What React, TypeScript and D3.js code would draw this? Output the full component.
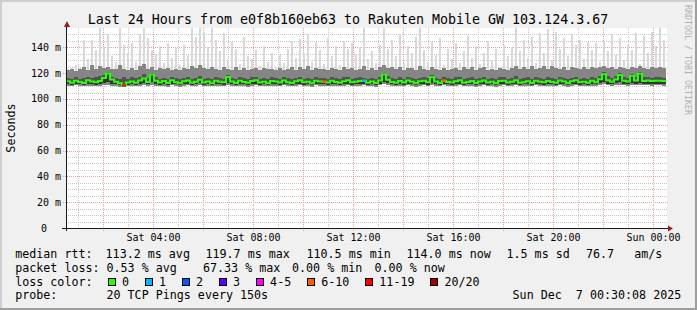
import React from "react";
import * as d3 from "d3";

// ---------- time window ----------
const START = new Date(2025, 11, 6, 0, 30, 8);
const END = new Date(2025, 11, 7, 0, 30, 8);
const Y_MAX = 155;

// ---------- data (ms), 150 consolidated slots of 9.6 min ----------
const medianMs = [
  113.8, 112.6, 114.1, 113.2, 112.4, 114.6, 113.5, 112.9, 114.0, 116.2,
  119.7, 115.1, 113.4, 112.2, 110.6, 112.8, 113.6, 112.5, 114.3, 115.8,
  113.1, 118.9, 114.2, 112.7, 113.9, 112.3, 114.5, 113.0, 112.1, 113.8,
  114.4, 112.6, 113.3, 114.9, 112.8, 113.5, 112.2, 114.1, 113.4, 112.9,
  117.0, 113.6, 112.4, 114.2, 113.1, 112.5, 113.9, 114.6, 112.7, 113.3,
  112.2, 114.0, 113.5, 112.8, 114.3, 113.0, 112.4, 113.7, 114.5, 112.9,
  113.4, 112.1, 114.2, 113.6, 113.4, 112.7, 114.1, 113.2, 112.5, 113.8,
  114.6, 112.9, 113.3, 114.0, 114.2, 112.6, 113.5, 112.3, 114.4, 119.0,
  114.8, 113.1, 112.5, 113.9, 112.8, 114.3, 113.4, 112.2, 113.7, 114.1,
  112.9, 116.8, 113.5, 112.4, 114.2, 113.1, 112.7, 113.8, 114.5, 112.6,
  113.2, 114.0, 112.3, 113.6, 114.4, 112.8, 113.3, 112.1, 113.9, 114.2,
  112.7, 113.4, 114.6, 112.5, 113.0, 113.8, 112.4, 114.1, 113.3, 112.9,
  114.0, 113.2, 112.6, 114.3, 113.5, 112.2, 113.7, 114.5, 112.9, 113.4,
  112.5, 114.1, 113.0, 115.2, 119.1, 114.6, 113.3, 115.0, 118.5, 114.2,
  113.6, 118.0, 114.3, 119.5, 114.0, 114.3, 113.9, 114.2, 114.1, 114.0,
];

const maxMs = [
  123.5, 124.2, 126.0, 123.8, 145.5, 131.0, 146.0, 138.0, 155.0, 140.0,
  150.0, 133.0, 128.5, 155.0, 142.0, 136.0, 143.5, 129.0, 150.0, 155.0,
  147.0, 138.0, 135.0, 141.0, 128.0, 143.0, 132.0, 139.5, 126.5, 142.0,
  134.0, 155.0, 148.0, 155.0, 152.0, 140.0, 155.0, 146.0, 137.0, 151.0,
  130.0, 144.0, 139.0, 127.0, 148.0, 133.0, 131.0, 138.0, 125.5, 141.0,
  129.0, 136.0, 124.5, 134.0, 127.5, 139.0, 145.0, 132.0, 146.5, 136.0,
  150.0, 129.0, 144.0, 138.0, 127.0, 147.0, 133.5, 141.0, 126.0, 145.0,
  139.0, 143.0, 135.0, 140.0, 155.0, 131.0, 137.0, 128.0, 142.0, 155.0,
  139.0, 146.0, 133.0, 150.0, 127.5, 141.0, 136.0, 148.0, 155.0, 138.0,
  129.0, 144.0, 134.0, 147.0, 126.0, 139.0, 131.0, 143.0, 128.0, 137.0,
  148.5, 132.0, 141.0, 127.0, 136.0, 145.0, 130.0, 138.5, 124.5, 142.0,
  133.0, 140.0, 155.0, 137.0, 146.0, 132.0, 148.0, 128.0, 151.0, 136.0,
  154.0, 130.0, 152.0, 139.0, 147.0, 133.0, 150.0, 142.0, 146.0, 131.0,
  144.0, 138.0, 143.0, 129.0, 145.0, 137.0, 150.0, 134.0, 147.0, 130.0,
  142.0, 138.0, 151.0, 127.0, 149.0, 136.0, 152.0, 141.0, 155.0, 146.0,
];

const p90Ms = [
  122.4, 123.1, 122.0, 123.5, 124.8, 122.6, 126.2, 123.0, 125.5, 123.8,
  124.6, 122.9, 123.4, 126.0, 123.2, 122.5, 124.1, 122.8, 125.2, 127.0,
  123.6, 124.9, 122.3, 123.7, 122.9, 124.3, 122.1, 123.5, 122.7, 124.0,
  123.2, 125.8, 123.9, 126.5, 124.2, 123.0, 125.1, 123.6, 122.4, 124.7,
  123.3, 122.8, 124.5, 122.6, 123.9, 122.2, 123.4, 124.1, 122.5, 123.8,
  122.9, 123.6, 122.1, 124.0, 122.7, 123.3, 125.0, 122.8, 124.6, 123.1,
  125.4, 122.6, 123.8, 122.9, 123.5, 122.3, 124.2, 123.0, 122.6, 124.8,
  123.4, 124.1, 122.7, 123.6, 125.3, 122.8, 123.9, 122.5, 124.4, 126.1,
  123.7, 124.6, 122.9, 125.0, 122.6, 123.8, 124.3, 122.4, 125.6, 123.5,
  122.8, 124.9, 123.2, 122.6, 123.9, 122.5, 123.6, 124.2, 122.7, 124.8,
  123.1, 124.4, 122.6, 123.7, 124.9, 122.8, 123.5, 122.3, 124.0, 123.2,
  122.7, 123.9, 125.7, 123.3, 124.5, 122.9, 125.2, 123.4, 124.1, 125.9,
  123.6, 125.4, 124.2, 123.1, 124.7, 122.8, 125.0, 124.3, 123.5, 124.6,
  123.2, 124.8, 123.7, 124.4, 125.8, 123.9, 124.6, 123.3, 125.1, 124.0,
  123.5, 124.9, 123.8, 125.3, 124.1, 123.6, 124.7, 123.9, 124.4, 123.7,
];

const p75Ms = [
  116.2, 115.4, 117.0, 115.8, 116.5, 117.3, 115.9, 116.8, 117.5, 118.2,
  121.0, 117.4, 116.1, 115.6, 116.9, 115.3, 116.7, 115.9, 117.2, 119.3,
  116.4, 120.5, 117.1, 115.7, 116.3, 115.5, 117.0, 116.2, 115.4, 116.6,
  117.3, 115.8, 116.5, 117.9, 115.6, 116.4, 115.2, 117.1, 116.0, 115.7,
  118.6, 116.3, 115.5, 117.0, 116.2, 115.4, 116.8, 117.4, 115.6, 116.1,
  115.3, 116.9, 116.4, 115.8, 117.2, 116.0, 115.5, 116.6, 117.3, 115.7,
  116.3, 115.4, 117.0, 116.5, 116.1, 115.6, 116.9, 116.2, 115.5, 116.7,
  117.4, 115.8, 116.3, 117.0, 116.6, 115.5, 116.4, 115.3, 117.2, 120.4,
  117.6, 116.1, 115.5, 116.8, 115.7, 117.1, 116.3, 115.2, 116.6, 117.0,
  115.9, 118.9, 116.4, 115.3, 117.0, 116.0, 115.6, 116.7, 117.3, 115.5,
  116.1, 117.0, 115.3, 116.5, 117.2, 115.7, 116.3, 115.1, 116.9, 117.1,
  115.6, 116.4, 117.5, 115.4, 116.0, 116.8, 115.3, 117.0, 116.2, 115.8,
  117.0, 116.3, 115.5, 117.2, 116.4, 115.2, 116.6, 117.4, 115.8, 116.3,
  115.4, 117.0, 116.0, 118.1, 120.6, 117.5, 116.3, 117.9, 120.1, 117.2,
  116.5, 119.6, 117.3, 120.8, 117.0, 116.9, 116.4, 117.1, 116.8, 116.6,
];

const p25Ms = [
  111.6, 111.1, 111.9, 111.4, 111.0, 111.8, 111.5, 111.2, 111.7, 112.3,
  113.0, 111.9, 111.3, 110.9, 110.2, 111.2, 111.6, 111.0, 111.8, 112.4,
  111.4, 112.8, 111.7, 111.1, 111.5, 110.9, 111.8, 111.3, 110.8, 111.6,
  111.9, 111.0, 111.4, 112.0, 111.2, 111.5, 110.9, 111.8, 111.4, 111.1,
  112.5, 111.5, 111.0, 111.8, 111.3, 110.9, 111.6, 111.9, 111.1, 111.4,
  110.9, 111.7, 111.5, 111.2, 111.8, 111.3, 111.0, 111.6, 111.9, 111.2,
  111.5, 110.8, 111.8, 111.6, 111.4, 111.1, 111.7, 111.4, 111.0, 111.6,
  111.9, 111.2, 111.4, 111.7, 111.8, 111.0, 111.5, 110.9, 111.8, 112.9,
  112.0, 111.4, 111.0, 111.7, 111.2, 111.8, 111.5, 110.9, 111.6, 111.8,
  111.2, 112.4, 111.5, 111.0, 111.8, 111.3, 111.1, 111.6, 111.9, 111.1,
  111.4, 111.7, 110.9, 111.5, 111.8, 111.2, 111.4, 110.8, 111.6, 111.8,
  111.1, 111.5, 111.9, 111.0, 111.3, 111.6, 111.0, 111.8, 111.4, 111.2,
  111.7, 111.4, 111.1, 111.8, 111.5, 110.9, 111.6, 111.9, 111.2, 111.4,
  111.0, 111.7, 111.3, 112.0, 113.1, 111.9, 111.4, 112.1, 112.8, 111.9,
  111.6, 112.5, 111.8, 112.7, 111.9, 111.8, 111.6, 111.9, 111.8, 111.7,
];

const minMs = [
  110.2, 109.8, 110.5, 110.0, 109.7, 110.4, 110.1, 109.9, 110.3, 110.6,
  111.2, 110.4, 110.0, 109.6, 109.5, 109.9, 110.2, 109.7, 110.4, 110.8,
  110.1, 111.0, 110.3, 109.8, 110.2, 109.6, 110.5, 110.0, 109.6, 110.3,
  110.5, 109.8, 110.1, 110.6, 109.9, 110.2, 109.7, 110.4, 110.1, 109.8,
  110.9, 110.2, 109.7, 110.4, 110.0, 109.6, 110.3, 110.5, 109.8, 110.1,
  109.7, 110.4, 110.2, 109.9, 110.5, 110.0, 109.7, 110.3, 110.6, 109.9,
  110.2, 109.6, 110.5, 110.3, 110.1, 109.8, 110.4, 110.1, 109.7, 110.3,
  110.6, 109.9, 110.1, 110.4, 110.5, 109.7, 110.2, 109.6, 110.5, 111.3,
  110.7, 110.1, 109.8, 110.4, 109.9, 110.5, 110.2, 109.6, 110.3, 110.5,
  109.9, 110.9, 110.2, 109.7, 110.5, 110.0, 109.8, 110.3, 110.6, 109.8,
  110.1, 110.4, 109.6, 110.2, 110.5, 109.9, 110.1, 109.5, 110.3, 110.5,
  109.8, 110.2, 110.6, 109.7, 110.0, 110.3, 109.7, 110.5, 110.1, 109.9,
  110.4, 110.1, 109.8, 110.5, 110.2, 109.6, 110.3, 110.6, 109.9, 110.1,
  109.7, 110.4, 110.0, 110.7, 111.4, 110.6, 110.1, 110.8, 111.2, 110.6,
  110.3, 111.0, 110.5, 111.1, 110.6, 110.5, 110.3, 110.6, 110.5, 110.4,
];

// slots with packet loss (index into the arrays above) and lost pings of 20
const lossSlots = [14, 64, 74, 94];
const lossCounts = [13, 7, 1, 8];

// ---------- labels ----------
const yTickValues = [0, 20, 40, 60, 80, 100, 120, 140];
const titleText = "Last 24 Hours from e0f8b160eb63 to Rakuten Mobile GW 103.124.3.67";
const yAxisTitle = "Seconds";
const watermark = "RRDTOOL / TOBI OETIKER";
const lossLabels = ["0", "1", "2", "3", "4-5", "6-10", "11-19", "20/20"];
const lossColors = ["#26ff00", "#00b8ff", "#0059ff", "#5e00ff", "#ff00ff", "#ff5e00", "#ff0000", "#a10000"];
const rttRow = ["median rtt:", "113.2 ms avg", "119.7 ms max", "110.5 ms min", "114.0 ms now", "1.5 ms sd", "76.7", "am/s"];
const lossRow = ["packet loss:", "0.53 % avg", "67.33 % max", "0.00 % min", "0.00 % now"];
const probeRow = ["probe:", "20 TCP Pings every 150s"];
const dateText = "Sun Dec  7 00:30:08 2025";

// layout for legend segments
const rttX = [15.2, 105.6, 205.5, 306.5, 406.5, 506.5, 585.9, 634.2];
const lossX = [15.2, 106.5, 203, 292, 374.5];
const probeX = [15.2, 106.5];

function lossColor(c: number) {
  if (c <= 0) return lossColors[0];
  if (c === 1) return lossColors[1];
  if (c === 2) return lossColors[2];
  if (c === 3) return lossColors[3];
  if (c <= 5) return lossColors[4];
  if (c <= 10) return lossColors[5];
  if (c <= 19) return lossColors[6];
  return lossColors[7];
}

const MONO = "'DejaVu Sans Mono', monospace";

export default function App() {
  const W = 697, H = 310;
  const left = 66, right = 666, top = 28, bottom = 228;
  const x = d3.scaleTime().domain([START, END]).range([left, right]);
  const y = d3.scaleLinear().domain([0, Y_MAX]).range([bottom, top]);

  const n = medianMs.length;
  const stepMs = (END.getTime() - START.getTime()) / n;
  const t = (i: number) => new Date(START.getTime() + i * stepMs);
  const pts = d3.range(n + 1);
  const v = (arr: number[], i: number) => arr[Math.min(i, n - 1)];

  const band = (lo: number[], hi: number[]) =>
    d3.area<number>()
      .x((i) => x(t(i)))
      .y0((i) => y(v(lo, i)))
      .y1((i) => y(v(hi, i)))
      .curve(d3.curveStepAfter)(pts) || "";

  const medLine = d3.line<number>()
    .x((i) => x(t(i)))
    .y((i) => y(v(medianMs, i)))
    .curve(d3.curveStepAfter)(pts) || "";

  const crispY = (val: number) => Math.round(y(val)) + 0.5;
  const crispX = (d: Date) => Math.floor(x(d)) + 0.5;

  const minorY = d3.range(5, Y_MAX, 5).filter((d) => d % 20 !== 0);
  const majorY = yTickValues.filter((d) => d > 0);
  const hourly = d3.timeHour.every(1)!.range(START, END);
  const majorX = hourly.filter((d) => d.getHours() % 2 === 0);
  const minorX = hourly.filter((d) => d.getHours() % 2 !== 0);
  const labelX = hourly.filter((d) => d.getHours() % 4 === 0);
  const fmt = d3.timeFormat("%a %H:%M");

  const minorGrid = "#c6c6c6";
  const majorGrid = "#eba0a0";

  // legend boxes
  const boxes: { bx: number; label: string; color: string }[] = [];
  let bx = 108;
  lossLabels.forEach((lab, i) => {
    boxes.push({ bx, label: lab, color: lossColors[i] });
    bx += 14 + lab.length * 7.03 + 16;
  });

  return (
    <svg
      width={W}
      height={H}
      viewBox={`0 0 ${W} ${H}`}
      style={{ position: "absolute", left: 0, top: 0, display: "block" }}
      fontFamily={MONO}
    >
      {/* background and frame */}
      <rect x={0} y={0} width={W} height={H} fill="#f0f0f0" />
      <rect x={0} y={0} width={W} height={2} fill="#cfcfcf" />
      <rect x={0} y={0} width={2} height={H} fill="#cfcfcf" />
      <rect x={0} y={H - 2} width={W} height={2} fill="#9e9e9e" />
      <rect x={W - 2} y={0} width={2} height={H} fill="#9e9e9e" />

      {/* canvas */}
      <rect x={left} y={top} width={right - left + 1} height={bottom - top} fill="#ffffff" />

      {/* grid */}
      <g shapeRendering="crispEdges" strokeWidth={1} strokeDasharray="1 1">
        {minorY.map((d) => (
          <line key={"my" + d} x1={left} x2={right + 1} y1={crispY(d)} y2={crispY(d)} stroke={minorGrid} />
        ))}
        {minorX.map((d) => (
          <line key={"mx" + d.getTime()} x1={crispX(d)} x2={crispX(d)} y1={top} y2={bottom} stroke={minorGrid} />
        ))}
        {majorY.map((d) => (
          <line key={"My" + d} x1={left - 3} x2={right + 2} y1={crispY(d)} y2={crispY(d)} stroke={majorGrid} />
        ))}
        {majorX.map((d) => (
          <line key={"Mx" + d.getTime()} x1={crispX(d)} x2={crispX(d)} y1={top} y2={bottom + 3} stroke={majorGrid} />
        ))}
      </g>

      {/* smoke */}
      <g shapeRendering="crispEdges">
        {d3.range(n).map((i) => (
          <rect
            key={"mx" + i}
            x={x(t(i)) + 1}
            width={2}
            y={y(maxMs[i])}
            height={Math.max(0, y(p90Ms[i]) - y(maxMs[i]))}
            fill="#d8d8d8"
          />
        ))}
        <path d={band(minMs, p90Ms)} fill="#858585" />
        <path d={band(p25Ms, p75Ms)} fill="#525252" />
        <path d={band(p25Ms, medianMs)} fill="#333333" />
      </g>

      {/* median line */}
      <path d={medLine} fill="none" stroke={lossColors[0]} strokeWidth={2} />
      {lossSlots.map((k, j) => (
        <path
          key={"loss" + k}
          d={`M${x(t(k))},${y(medianMs[k])}H${x(t(k + 1))}`}
          fill="none"
          stroke={lossColor(lossCounts[j])}
          strokeWidth={2}
        />
      ))}

      {/* axes */}
      <g shapeRendering="crispEdges" stroke="#1a1a1a" strokeWidth={1}>
        <line x1={left - 4} x2={right + 2} y1={bottom + 0.5} y2={bottom + 0.5} />
        <line x1={left + 0.5} x2={left + 0.5} y1={bottom + 3} y2={top - 1} />
      </g>
      <polygon points={`${left - 2},${top - 1} ${left + 4},${top - 1} ${left + 1},${top - 7}`} fill="#9c1a1a" />
      <polygon points={`${right + 2},${bottom - 2.5} ${right + 2},${bottom + 3.5} ${right + 7},${bottom + 0.5}`} fill="#9c1a1a" />

      {/* axis labels */}
      <g fontSize={10} fill="#000">
        {yTickValues.map((d) => (
          <text key={"yl" + d} x={d === 0 ? 47 : 61} y={y(d)} dy="0.35em" textAnchor="end">
            {d === 0 ? "0" : `${d} m`}
          </text>
        ))}
        {labelX.map((d) => (
          <text key={"xl" + d.getTime()} x={Math.floor(x(d)) + 0.5} y={241} textAnchor="middle">
            {fmt(d)}
          </text>
        ))}
      </g>

      {/* title */}
      <text x={348} y={24} fontSize={13.3} textAnchor="middle" fill="#000">
        {titleText}
      </text>

      {/* vertical labels */}
      <text
        transform={`translate(15,${(top + bottom) / 2}) rotate(-90)`}
        fontSize={11.7}
        textAnchor="middle"
        fill="#000"
      >
        {yAxisTitle}
      </text>
      <text transform={`translate(685,5) rotate(90)`} fontSize={8.3} fill="#b0b0b0">
        {watermark}
      </text>

      {/* legend */}
      <g fontSize={11.68} fill="#000" style={{ whiteSpace: "pre" }}>
        {rttRow.map((s, i) => (
          <text key={"r" + i} x={rttX[i]} y={258.3}>{s}</text>
        ))}
        {lossRow.map((s, i) => (
          <text key={"l" + i} x={lossX[i]} y={272}>{s}</text>
        ))}
        <text x={15.2} y={285.7}>loss color:</text>
        {boxes.map((b) => (
          <g key={"b" + b.label}>
            <rect x={b.bx + 0.5} y={278.5} width={7} height={7} fill={b.color} stroke="#000" strokeWidth={1} shapeRendering="crispEdges" />
            <text x={b.bx + 14} y={285.7}>{b.label}</text>
          </g>
        ))}
        {probeRow.map((s, i) => (
          <text key={"p" + i} x={probeX[i]} y={299.4}>{s}</text>
        ))}
        <text x={512.6} y={299.4} xmlSpace="preserve">{dateText}</text>
      </g>
    </svg>
  );
}
